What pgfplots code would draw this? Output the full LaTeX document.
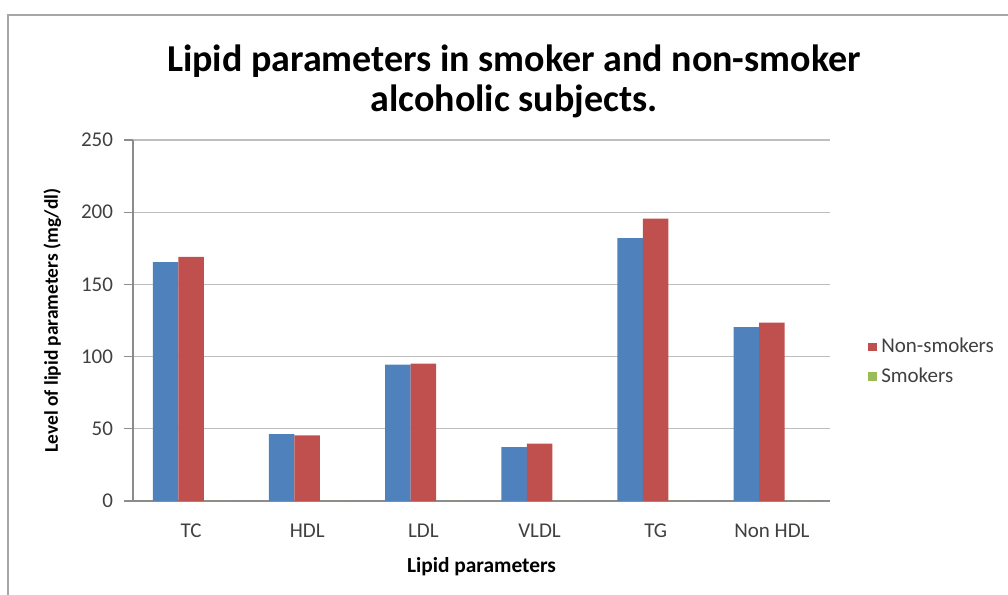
\documentclass[border=0pt]{standalone}
\usepackage{fontspec}
\setmainfont{Carlito}
\usepackage{pgfplots}
\pgfplotsset{compat=1.18}
\definecolor{xlblue}{HTML}{4F81BD}
\definecolor{xlred}{HTML}{C0504D}
\definecolor{xlgreen}{HTML}{9BBB59}
\definecolor{gridgray}{HTML}{BEBEBE}
\definecolor{axgray}{HTML}{8C8C8C}
\definecolor{txtgray}{HTML}{404040}
\begin{document}
\begin{tikzpicture}
\path[use as bounding box] (0,0) rectangle (504pt,297.5pt);
% chart frame
\draw[color=gray!70, line width=1pt] (4pt,0) -- (4pt,290pt) -- (504pt,290pt);
% title
\node[font=\fontsize{19}{20}\selectfont\bfseries, align=center] at (257pt,257pt)
  {Lipid parameters in smoker and non-smoker\\alcoholic subjects.};
\begin{axis}[
  at={(66.5pt,47pt)}, anchor=south west,
  scale only axis, width=348.5pt, height=180.5pt,
  ybar=0pt, bar width=12.75pt,
  xmin=-0.5, xmax=5.5, ymin=0, ymax=250,
  xtick={0,...,5},
  xticklabels={TC,HDL,LDL,VLDL,TG,Non HDL},
  ytick={0,50,...,250},
  /pgf/number format/assume math mode=true,
  ymajorgrids, grid style={gridgray, line width=0.6pt},
  axis x line*=bottom, axis y line*=left,
  axis line style={axgray, line width=0.6pt, -},
  xtick style={draw=none},
  ytick style={axgray, line width=0.6pt},
  tick align=outside, major tick length=4.5pt,
  ticklabel style={font=\fontsize{10.5}{12}\selectfont, text=txtgray},
  xticklabel style={yshift=-3.5pt},
  yticklabel style={xshift=-2pt},
  xlabel={Lipid parameters},
  ylabel={Level of lipid parameters (mg/dl)},
  xlabel style={font=\fontsize{10.7}{12}\selectfont\bfseries, yshift=-3pt},
  ylabel style={font=\fontsize{9.7}{11}\selectfont\bfseries, yshift=3pt},
  legend style={at={(1.046,0.474)}, anchor=north west, draw=none, fill=none,
    font=\fontsize{10.5}{12}\selectfont, text=txtgray, row sep=2pt,
    /tikz/every even column/.append style={column sep=2pt}},
  legend cell align=left,
  legend image code/.code={\fill[#1] (0pt,-2.2pt) rectangle (4.4pt,2.2pt);},
]
\addplot[fill=xlblue, draw=none, bar shift=-12.75pt, forget plot] coordinates {
  (0,165.5) (1,46.3) (2,94.4) (3,37.3) (4,182.1) (5,120.4)};
\addplot[fill=xlred, draw=none, bar shift=0pt] coordinates {
  (0,169.0) (1,45.4) (2,95.1) (3,39.8) (4,195.6) (5,123.6)};
\addlegendentry{Non-smokers}
\addplot[fill=xlgreen, draw=none, bar shift=12.75pt] coordinates {
  (0,0) (1,0) (2,0) (3,0) (4,0) (5,0)};
\addlegendentry{Smokers}
\end{axis}
\end{tikzpicture}
\end{document}
